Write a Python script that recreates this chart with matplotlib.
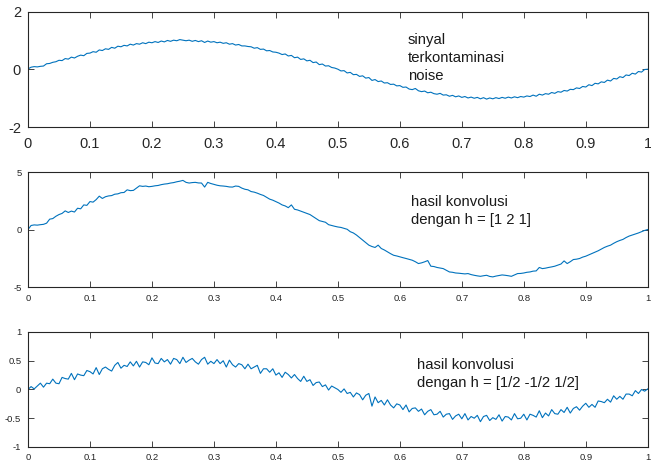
import numpy as np
import matplotlib
matplotlib.use('Agg')
import matplotlib.pyplot as plt

plt.rcParams['font.family'] = ['Liberation Sans', 'DejaVu Sans']

# sinyal terkontaminasi noise (201 titik, 0..1)
sinyal = [
    0.02, 0.08, 0.10, 0.09, 0.11, 0.12, 0.20, 0.21, 0.25, 0.27,
    0.32, 0.31, 0.38, 0.36, 0.43, 0.40, 0.46, 0.50, 0.48, 0.56,
    0.57, 0.62, 0.60, 0.68, 0.66, 0.72, 0.70, 0.77, 0.74, 0.81,
    0.79, 0.84, 0.82, 0.88, 0.85, 0.90, 0.88, 0.93, 0.90, 0.95,
    0.93, 0.97, 0.94, 0.99, 0.96, 1.01, 0.98, 1.02, 1.00, 1.04,
    1.02, 1.00, 1.02, 0.98, 1.01, 0.97, 1.00, 0.94, 0.99, 0.95,
    0.97, 0.93, 0.95, 0.91, 0.93, 0.88, 0.90, 0.85, 0.87, 0.82,
    0.82, 0.80, 0.79, 0.74, 0.76, 0.70, 0.71, 0.65, 0.66, 0.61,
    0.60, 0.57, 0.52, 0.54, 0.47, 0.49, 0.41, 0.43, 0.35, 0.37,
    0.30, 0.32, 0.24, 0.26, 0.17, 0.19, 0.12, 0.13, 0.07, 0.05,
    0.01, -0.05, -0.04, -0.12, -0.10, -0.18, -0.17, -0.24, -0.22, -0.30,
    -0.28, -0.38, -0.35, -0.42, -0.40, -0.47, -0.46, -0.52, -0.51, -0.57,
    -0.56, -0.62, -0.61, -0.68, -0.70, -0.66, -0.74, -0.77, -0.75, -0.81,
    -0.79, -0.84, -0.86, -0.83, -0.89, -0.88, -0.93, -0.90, -0.95, -0.92,
    -0.97, -0.94, -0.99, -0.96, -1.00, -0.97, -1.02, -0.98, -1.03, -0.99,
    -1.02, -0.98, -1.01, -0.97, -1.00, -0.96, -0.99, -0.95, -0.98, -0.94,
    -0.96, -0.92, -0.94, -0.89, -0.93, -0.86, -0.89, -0.84, -0.86, -0.80,
    -0.83, -0.77, -0.79, -0.73, -0.75, -0.69, -0.70, -0.64, -0.66, -0.59,
    -0.61, -0.53, -0.56, -0.48, -0.50, -0.43, -0.45, -0.37, -0.40, -0.31,
    -0.33, -0.25, -0.28, -0.19, -0.21, -0.13, -0.16, -0.07, -0.09, 0.00,
    0.01,
]

# hasil konvolusi dengan h = [1 2 1] (201 titik)
konv_121 = [
    0.00, 0.35, 0.40, 0.38, 0.42, 0.45, 0.55, 0.90, 0.95, 1.15,
    1.30, 1.40, 1.62, 1.48, 1.60, 1.52, 1.85, 1.80, 2.14, 2.10,
    2.43, 2.38, 2.60, 2.90, 2.70, 2.85, 2.92, 2.95, 3.07, 3.10,
    3.20, 3.22, 3.45, 3.38, 3.40, 3.60, 3.80, 3.75, 3.78, 3.72,
    3.75, 3.80, 3.83, 3.90, 3.95, 3.98, 4.04, 4.08, 4.15, 4.20,
    4.27, 4.10, 4.04, 4.08, 4.10, 4.05, 4.04, 3.69, 4.10, 4.00,
    3.92, 3.85, 3.80, 3.78, 3.75, 3.70, 3.69, 3.78, 3.75, 3.60,
    3.50, 3.45, 3.30, 3.25, 3.16, 3.05, 2.96, 2.80, 2.64, 2.55,
    2.43, 2.30, 2.14, 2.05, 1.90, 2.14, 1.76, 1.70, 1.60, 1.50,
    1.41, 1.30, 1.12, 0.95, 0.77, 0.70, 0.63, 0.42, 0.35, 0.28,
    0.22, 0.18, 0.10, 0.02, -0.19, -0.30, -0.48, -0.70, -0.92, -1.15,
    -1.36, -1.48, -1.56, -1.36, -1.65, -1.78, -1.94, -2.10, -2.24, -2.30,
    -2.38, -2.45, -2.52, -2.60, -2.67, -2.80, -2.96, -2.90, -2.81, -2.70,
    -3.19, -3.22, -3.30, -3.35, -3.40, -3.55, -3.69, -3.72, -3.78, -3.80,
    -3.83, -3.86, -3.83, -3.92, -3.98, -4.03, -4.07, -4.02, -3.98, -4.08,
    -4.12, -4.05, -4.00, -3.95, -3.98, -4.02, -4.07, -3.95, -3.83, -3.82,
    -3.78, -3.72, -3.69, -3.62, -3.60, -3.30, -3.40, -3.36, -3.30, -3.25,
    -3.19, -3.10, -3.00, -2.73, -2.96, -2.80, -2.61, -2.58, -2.52, -2.40,
    -2.32, -2.20, -2.08, -1.95, -1.85, -1.70, -1.56, -1.45, -1.36, -1.20,
    -1.06, -0.95, -0.86, -0.70, -0.57, -0.48, -0.39, -0.30, -0.19, -0.08,
    0.00,
]

# hasil konvolusi dengan h = [1/2 -1/2 1/2] (201 titik)
konv_half = [
    0.00, 0.05, 0.01, 0.06, 0.11, 0.04, 0.11, 0.10, 0.18, 0.11,
    0.10, 0.21, 0.19, 0.18, 0.28, 0.17, 0.27, 0.25, 0.24, 0.33,
    0.31, 0.27, 0.38, 0.26, 0.36, 0.39, 0.35, 0.32, 0.42, 0.47,
    0.37, 0.42, 0.40, 0.48, 0.41, 0.49, 0.39, 0.48, 0.47, 0.43,
    0.55, 0.46, 0.45, 0.54, 0.48, 0.52, 0.44, 0.54, 0.52, 0.45,
    0.56, 0.47, 0.51, 0.54, 0.48, 0.44, 0.52, 0.56, 0.44, 0.49,
    0.45, 0.52, 0.45, 0.50, 0.39, 0.51, 0.43, 0.39, 0.45, 0.43,
    0.36, 0.44, 0.36, 0.39, 0.42, 0.28, 0.36, 0.36, 0.30, 0.36,
    0.25, 0.29, 0.21, 0.30, 0.26, 0.20, 0.26, 0.19, 0.14, 0.23,
    0.14, 0.17, 0.07, 0.12, 0.13, 0.05, 0.08, -0.01, 0.06, 0.03,
    0.00, -0.05, 0.01, -0.07, -0.05, -0.13, -0.06, -0.09, -0.18, -0.10,
    -0.07, -0.29, -0.13, -0.23, -0.19, -0.27, -0.18, -0.27, -0.32, -0.25,
    -0.27, -0.35, -0.27, -0.39, -0.33, -0.32, -0.38, -0.34, -0.44, -0.38,
    -0.35, -0.44, -0.43, -0.38, -0.48, -0.43, -0.42, -0.52, -0.46, -0.43,
    -0.51, -0.42, -0.53, -0.47, -0.50, -0.45, -0.56, -0.47, -0.45, -0.54,
    -0.49, -0.52, -0.44, -0.55, -0.47, -0.48, -0.53, -0.42, -0.51, -0.50,
    -0.43, -0.53, -0.43, -0.45, -0.48, -0.37, -0.49, -0.41, -0.46, -0.35,
    -0.42, -0.43, -0.35, -0.40, -0.31, -0.41, -0.33, -0.30, -0.36, -0.29,
    -0.24, -0.31, -0.26, -0.31, -0.20, -0.21, -0.23, -0.17, -0.22, -0.11,
    -0.17, -0.12, -0.17, -0.08, -0.08, -0.11, -0.02, -0.07, 0.00, -0.03,
    0.01,
]

xticks = [0, 0.1, 0.2, 0.3, 0.4, 0.5, 0.6, 0.7, 0.8, 0.9, 1]
xticklabels = ['0', '0.1', '0.2', '0.3', '0.4', '0.5', '0.6', '0.7', '0.8', '0.9', '1']

# (data, ylim, yticks, ytick labels, teks, x teks, baseline teks, ukuran tick, pad x, pad y)
panels = [
    (sinyal, (-2, 2), [-2, 0, 2], ['-2', '0', '2'],
     'sinyal\nterkontaminasi\nnoise', 0.613, -0.365, 10.5, 7, 5),
    (konv_121, (-5, 5), [-5, 0, 5], ['-5', '0', '5'],
     'hasil konvolusi\ndengan h = [1 2 1]', 0.618, 0.478, 6.8, 5.2, 4.3),
    (konv_half, (-1, 1), [-1, -0.5, 0, 0.5, 1], ['-1', '-0.5', '0', '0.5', '1'],
     'hasil konvolusi\ndengan h = [1/2 -1/2 1/2]', 0.628, 0.049, 6.8, 4.6, 4.8),
]
bottoms = [0.7257, 0.3801, 0.0346]

fig = plt.figure(figsize=(6.51, 4.63), dpi=100)
for (y, ylim, yt, ytl, label, tx, ty, tick_fs, xpad, ypad), b in zip(panels, bottoms):
    ax = fig.add_axes([0.043, b, 0.952, 0.2484])
    t = np.linspace(0, 1, len(y))
    ax.plot(t, y, color='#0072BD', lw=0.8)
    ax.set_xlim(0, 1)
    ax.set_ylim(*ylim)
    ax.set_xticks(xticks)
    ax.set_xticklabels(xticklabels)
    ax.set_yticks(yt)
    ax.set_yticklabels(ytl)
    ax.tick_params(direction='in', length=4, width=0.6, colors='#262626',
                   labelsize=tick_fs, top=True, right=True)
    ax.tick_params(axis='x', pad=xpad)
    ax.tick_params(axis='y', pad=ypad)
    for s in ax.spines.values():
        s.set_color('#262626')
        s.set_linewidth(0.8)
    ax.text(tx, ty, label, fontsize=10.7, va='baseline', ha='left',
            color='#1a1a1a', linespacing=1.37)

fig.savefig('out.png', dpi=100)
